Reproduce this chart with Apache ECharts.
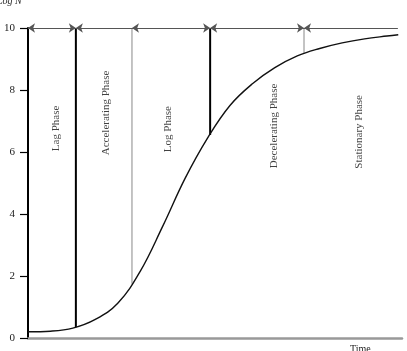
<!DOCTYPE html>
<html>
<head>
<meta charset="utf-8">
<script src="https://cdn.jsdelivr.net/npm/echarts@6/dist/echarts.min.js"></script>
<style>
html,body{margin:0;padding:0;background:#fff;}
#chart{width:407px;height:351px;}
</style>
</head>
<body>
<div id="chart"></div>
<script>
// Growth curve (time in arbitrary units 0-100, Log N)
const timeVals = [0, 6, 12, 18, 24, 30, 36, 42, 48, 54, 60, 66, 72, 78, 84, 90, 96, 99];
const logN     = [0.2, 0.22, 0.32, 0.6, 1.12, 2.15, 3.6, 5.15, 6.45, 7.5, 8.2, 8.72, 9.1, 9.34, 9.52, 9.65, 9.74, 9.78];

// Phase boundaries (time) and where each boundary meets the curve
const boundaryTime = [12.8, 27.8, 48.7, 73.8];
const boundaryLogN = [0.35, 1.75, 6.55, 9.18];
const boundaryBold = [true, false, true, false];
const topLevel = 10;

// Top arrows: segments between boundaries
const segStart = [0, 12.8, 27.8, 48.7, 73.8];
const segEnd   = [12.8, 27.8, 48.7, 73.8, 98.9];
const segStartArrow = [true, true, true, true, true];
const segEndArrow   = [true, false, true, true, false];

// Phase labels
const phaseNames = ['Lag Phase', 'Accelerating Phase', 'Log Phase', 'Decelerating Phase', 'Stationary Phase'];
const phaseX = [7.4, 20.9, 37.4, 65.8, 88.5];
const phaseY = [6.76, 7.26, 6.74, 6.84, 6.65];

const yTicks = [0, 2, 4, 6, 8, 10];

const chart = echarts.init(document.getElementById('chart'), null, {renderer: 'canvas'});

const series = [];
series.push({
  type: 'line',
  data: timeVals.map((t, i) => [t, logN[i]]),
  smooth: 0.4,
  showSymbol: false,
  lineStyle: {color: '#111', width: 1.4},
  z: 5
});
boundaryTime.forEach((t, i) => {
  series.push({
    type: 'line',
    data: [[t, boundaryLogN[i]], [t, topLevel]],
    showSymbol: false,
    lineStyle: {color: boundaryBold[i] ? '#000' : '#888', width: boundaryBold[i] ? 2 : 1},
    z: 4
  });
});
series.push({
  type: 'line',
  data: [],
  markLine: {
    silent: true,
    animation: false,
    label: {show: false},
    lineStyle: {color: '#555', width: 1.2, type: 'solid'},
    symbolSize: [7, 7],
    data: segStart.map((s, i) => [
      {coord: [s, topLevel], symbol: segStartArrow[i] ? 'arrow' : 'none'},
      {coord: [segEnd[i], topLevel], symbol: segEndArrow[i] ? 'arrow' : 'none'}
    ])
  }
});
series.push({
  type: 'scatter',
  symbolSize: 0,
  data: phaseX.map((x, i) => ({value: [x, phaseY[i]], name: phaseNames[i]})),
  label: {
    show: true,
    position: 'inside',
    rotate: 90,
    formatter: p => p.name,
    fontFamily: '"Liberation Serif", serif',
    fontSize: 11,
    color: '#111'
  },
  z: 6
});

chart.setOption({
  animation: false,
  backgroundColor: '#fff',
  grid: {left: 28, right: 5, top: 28, bottom: 13, containLabel: false},
  xAxis: {
    type: 'value', min: 0, max: 100,
    axisLine: {show: true, lineStyle: {color: '#999', width: 2.5}},
    axisTick: {show: false},
    axisLabel: {show: false},
    splitLine: {show: false}
  },
  yAxis: {
    type: 'value', min: 0, max: 10, interval: 2,
    axisLine: {show: true, lineStyle: {color: '#000', width: 2}},
    axisTick: {show: true, length: 8, lineStyle: {color: '#000', width: 1.2}},
    axisLabel: {
      margin: 13,
      fontFamily: '"Liberation Serif", serif',
      fontSize: 11,
      color: '#222',
      formatter: v => yTicks.indexOf(v) >= 0 ? String(v) : ''
    },
    splitLine: {show: false}
  },
  graphic: [
    {type: 'text', left: -3, top: -4, style: {text: 'Log N', font: 'italic 10px "Liberation Serif", serif', fill: '#222'}},
    {type: 'text', left: 350, top: 344, style: {text: 'Time', font: '10px "Liberation Serif", serif', fill: '#222'}}
  ],
  series: series
});
</script>
</body>
</html>
